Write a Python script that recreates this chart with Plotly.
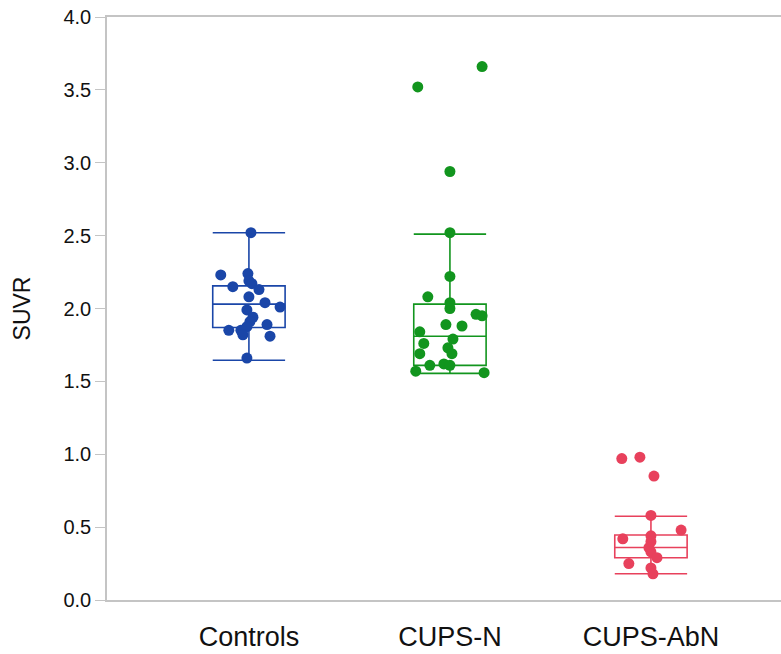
import plotly.graph_objects as go

# ---- data ----
categories = ["Controls", "CUPS-N", "CUPS-AbN"]

controls_values = [2.52, 2.23, 2.24, 2.15, 2.19, 2.17, 2.13, 2.08, 2.04, 2.01, 1.99,
                   1.94, 1.91, 1.89, 1.85, 1.85, 1.875, 1.82, 1.81, 1.66]
controls_jitter = [0.01, -0.14, -0.005, -0.08, 0.0, 0.015, 0.05, 0.0, 0.08, 0.155, -0.01,
                   0.02, 0.005, 0.09, -0.1, -0.04, -0.01, -0.03, 0.105, -0.01]

cupsn_values = [3.66, 3.52, 2.94, 2.52, 2.22, 2.08, 2.04, 2.00, 1.96, 1.95, 1.89,
                1.88, 1.84, 1.76, 1.79, 1.73, 1.69, 1.69, 1.61, 1.62, 1.61, 1.57, 1.56]
cupsn_jitter = [0.16, -0.16, 0.0, 0.0, 0.0, -0.11, 0.0, 0.0, 0.13, 0.16, -0.02,
                0.06, -0.15, -0.13, 0.015, -0.01, -0.15, 0.01, -0.1, -0.03, 0.0, -0.17, 0.17]

cupsabn_values = [0.97, 0.98, 0.85, 0.58, 0.48, 0.42, 0.44, 0.40, 0.36, 0.33, 0.29,
                  0.25, 0.22, 0.18]
cupsabn_jitter = [-0.145, -0.055, 0.015, 0.0, 0.15, -0.14, 0.0, 0.0, -0.01, 0.0, 0.03,
                  -0.11, 0.0, 0.01]

# box statistics
box_lowerfence = [1.645, 1.555, 0.18]
box_q1 = [1.87, 1.61, 0.29]
box_median = [2.03, 1.81, 0.36]
box_q3 = [2.155, 2.03, 0.446]
box_upperfence = [2.52, 2.51, 0.575]

y_ticks = [0.0, 0.5, 1.0, 1.5, 2.0, 2.5, 3.0, 3.5, 4.0]

colors = ["#1a46a8", "#12951e", "#e8415c"]
values = [controls_values, cupsn_values, cupsabn_values]
jitters = [controls_jitter, cupsn_jitter, cupsabn_jitter]

fig = go.Figure()
for i, cat in enumerate(categories):
    fig.add_trace(go.Box(
        x=[i], q1=[box_q1[i]], median=[box_median[i]], q3=[box_q3[i]],
        lowerfence=[box_lowerfence[i]], upperfence=[box_upperfence[i]],
        boxpoints=False, width=0.36, whiskerwidth=1,
        line=dict(color=colors[i], width=1.6),
        fillcolor="rgba(0,0,0,0)", showlegend=False, name=cat,
    ))
    fig.add_trace(go.Scatter(
        x=[i + d for d in jitters[i]], y=values[i], mode="markers",
        marker=dict(color=colors[i], size=11, line=dict(width=0)),
        showlegend=False, name=cat,
    ))

fig.update_layout(
    width=781, height=654,
    margin=dict(l=107, r=0, t=17, b=54),
    plot_bgcolor="white", paper_bgcolor="white",
    font=dict(family="Liberation Sans, Arial, sans-serif", color="#111"),
    xaxis=dict(
        range=[-0.706, 2.647], tickmode="array", tickvals=[0, 1, 2], ticktext=categories,
        showgrid=False, zeroline=False, showline=True, mirror=True,
        linecolor="#c4c4c4", linewidth=1.5,
        ticks="outside", ticklen=12, tickcolor="rgba(0,0,0,0)",
        tickfont=dict(size=27, color="#111"),
    ),
    yaxis=dict(
        range=[0, 4], tickmode="array", tickvals=y_ticks,
        ticktext=[f"{v:.1f}" for v in y_ticks],
        showgrid=False, zeroline=False, showline=True, linecolor="#c4c4c4", linewidth=1.5,
        ticks="outside", ticklen=10, tickcolor="#c4c4c4", tickwidth=1.2,
        tickfont=dict(size=20, color="#111"),
        title=dict(text="SUVR", font=dict(size=23, color="#111"), standoff=26),
    ),
)

fig.write_html("out.html", config={"displayModeBar": False},
               post_script="document.body.style.margin='0';")
